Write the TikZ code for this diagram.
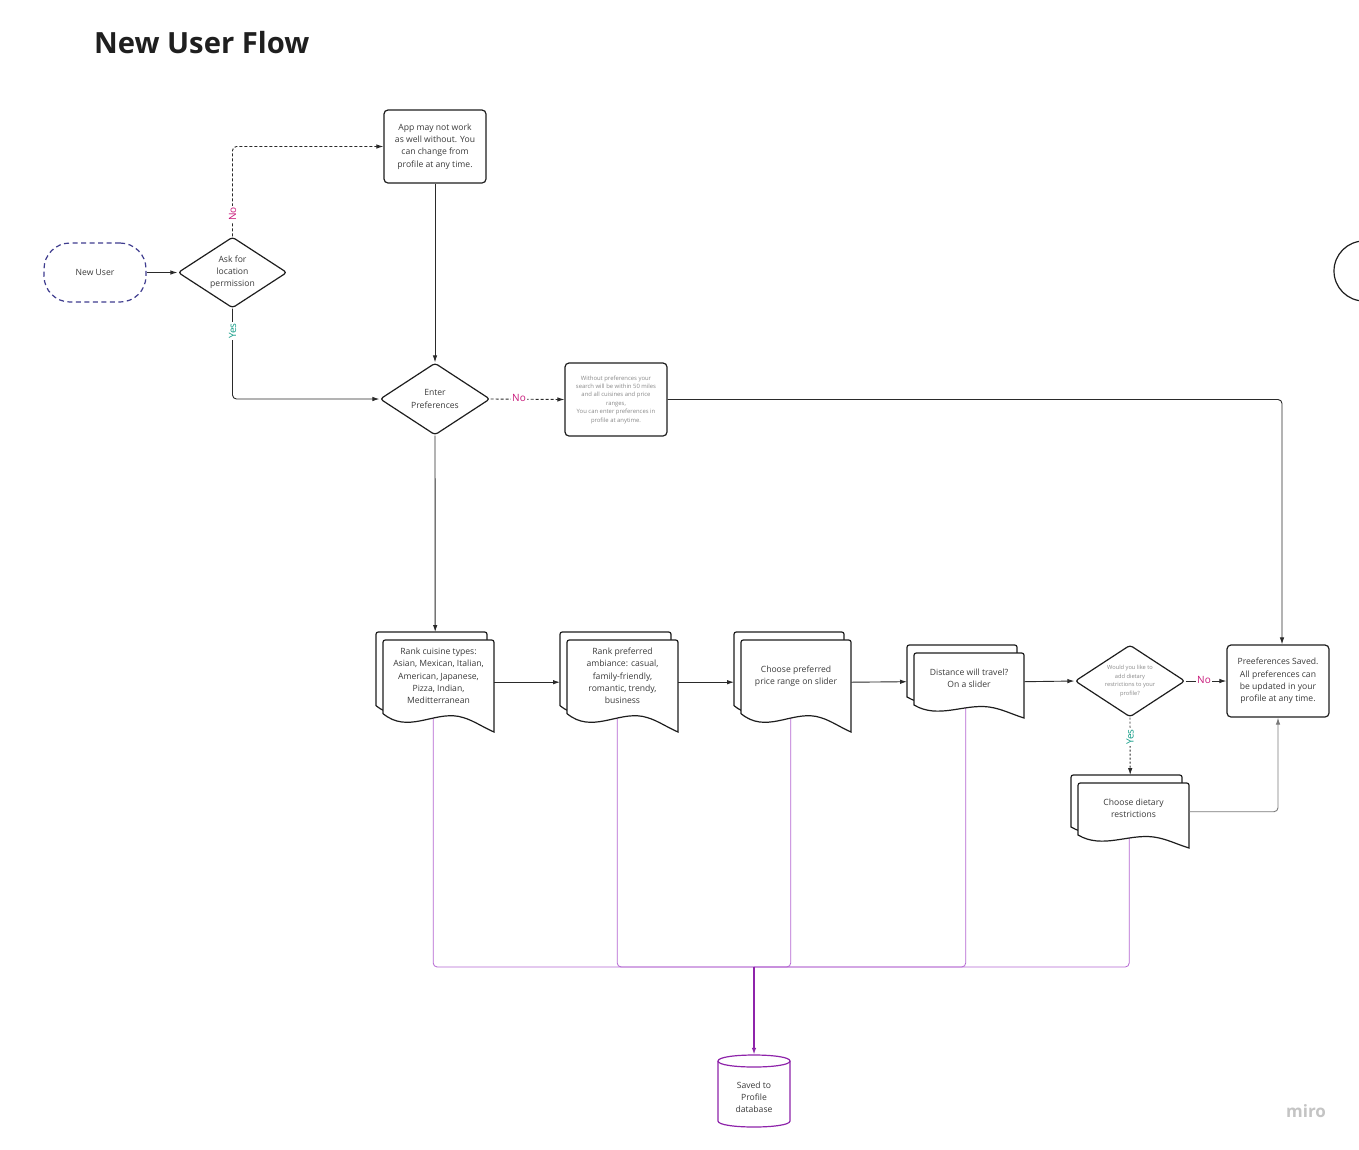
\documentclass[tikz,border=0pt]{standalone}
\usepackage{fontspec}
\setmainfont{Open Sans}
\usetikzlibrary{shapes.geometric,arrows.meta,backgrounds,calc}
\definecolor{txtc}{HTML}{3A3A3A}
\definecolor{smallc}{HTML}{8A8A8A}
\definecolor{linec}{HTML}{1E1E1E}
\definecolor{conc}{HTML}{2A2A2A}
\definecolor{grayc}{HTML}{7A7A7A}
\definecolor{noc}{HTML}{C8187A}
\definecolor{yesc}{HTML}{109C86}
\definecolor{userc}{HTML}{3F3D8F}
\definecolor{branchc}{HTML}{B466D2}
\definecolor{trunkc}{HTML}{8E24AA}
\definecolor{titlec}{HTML}{1F1F1F}
\definecolor{miroc}{HTML}{C4C4C4}
\tikzset{
  base/.style={font=\fontsize{8.6}{12.2}\selectfont, text=txtc, align=center},
  box/.style={base, draw=linec, line width=1.2pt, rounded corners=4pt, minimum width=102pt, minimum height=73pt, inner sep=0pt, fill=white},
  dia/.style={base, diamond, aspect=1.5, draw=linec, line width=1.2pt, rounded corners=3pt, minimum width=110pt, minimum height=72pt, inner sep=0pt, fill=white},
  docl/.style={draw=linec, line width=1.2pt, fill=white},
  docframe/.style={rectangle, inner sep=0pt, draw=none},
  dbline/.style={draw=trunkc, line width=1.2pt, fill=white},
  conn/.style={draw=conc, line width=0.9pt, -{Latex[length=7pt,width=4.5pt]}, rounded corners=4pt},
  dsh/.style={conn, dash pattern=on 3pt off 2pt},
  dotc/.style={conn, dash pattern=on 2pt off 2pt},
  nolab/.style={text=noc, font=\fontsize{10}{12}\selectfont, fill=white, inner sep=1.5pt},
  yeslab/.style={nolab, text=yesc},
  branch/.style={draw=branchc, line width=0.8pt, rounded corners=4pt},
  trunk/.style={draw=trunkc, line width=1.8pt, -{Latex[length=7pt,width=4.5pt]}}
}
\newcommand\docpath[2]{%
  \filldraw[docl] (0,{0.8*#2}) -- (0,5) .. controls (0,0) .. (5,0) -- ({#1-5},0) .. controls (#1,0) .. (#1,5) -- (#1,#2) .. controls ({0.87*#1},{0.93*#2}) and ({0.8*#1},{0.86*#2}) .. ({0.68*#1},{0.83*#2}) .. controls ({0.45*#1},{0.78*#2}) and ({0.22*#1},{1.02*#2}) .. (0,{0.8*#2}) -- cycle;}
\newcommand\mdoc[6]{%
  \begin{scope}[shift={(#2-7,#3-8)}]\docpath{#4}{#5}\end{scope}
  \begin{scope}[shift={(#2,#3)}]\docpath{#4}{#5}\end{scope}
  \node[docframe, minimum width={#4+7}, minimum height={#5+8}, anchor=north west] (#1) at (#2-7,#3-8) {};
  \node[base] (#1t) at ({#2+#4/2},{#3+0.39*#5}) {#6};}
\begin{document}
\begin{tikzpicture}[x=1pt,y=-1pt]
\useasboundingbox (0,0) rectangle (1359,1149);
\begin{scope}[on background layer]
  \fill[white] (0,0) rectangle (1359,1149);
\end{scope}

% title and watermark
\node[anchor=west, font=\bfseries\fontsize{29.2}{34}\selectfont, text=titlec, inner sep=0pt] (title) at (94,43) {New User Flow};
\node[font=\bfseries\fontsize{17}{20}\selectfont, text=miroc] (miro) at (1306,1111) {miro};
\node[circle, draw=linec, line width=1.2pt, minimum size=60pt] (edge) at (1364,271) {};

% top part
\node[base, draw=userc, line width=1.2pt, dash pattern=on 5pt off 3.5pt, rounded corners=26pt, minimum width=102pt, minimum height=59pt, inner sep=0pt] (nu) at (95,272.5) {New User};
\node[dia, minimum width=109pt, minimum height=71pt] (ask) at (232.5,272.5) {Ask for\\location\\permission};
\node[box] (app) at (435,146.5) {App may not work\\as well without. You\\can change from\\profile at any time.};
\node[dia] (ep) at (435,399) {Enter\\Preferences};
\node[box, font=\fontsize{5.9}{8.4}\selectfont, text=smallc] (wp) at (616,399.5) {Without preferences your\\search will be within 50 miles\\and all cuisines and price\\ranges,\\You can enter preferences in\\profile at anytime.};

% document row
\mdoc{d1}{383}{640}{111}{92}{Rank cuisine types:\\Asian, Mexican, Italian,\\American, Japanese,\\Pizza, Indian,\\Meditterranean}
\mdoc{d2}{567}{640}{111}{92}{Rank preferred\\ambiance: casual,\\family-friendly,\\romantic, trendy,\\business}
\mdoc{d3}{741}{640}{110}{92}{Choose preferred\\price range on slider}
\mdoc{d4}{914}{653}{110}{65}{Distance will travel?\\On a slider}
\mdoc{d5}{1078}{783}{111}{65}{Choose dietary\\restrictions}

\node[dia, font=\fontsize{5.7}{8.5}\selectfont, text=smallc] (dd) at (1130,681) {Would you like to\\add dietary\\restrictions to your\\profile?};
\node[box, minimum height=72pt] (ps) at (1278,681) {Preeferences Saved.\\All preferences can\\be updated in your\\profile at any time.};

% database cylinder
\node[docframe, minimum width=72pt, minimum height=72pt] (db) at (754,1091) {};
\filldraw[dbline] (718,1061) -- (718,1121) .. controls (718,1129) and (790,1129) .. (790,1121) -- (790,1061) .. controls (790,1053) and (718,1053) .. (718,1061) -- cycle;
\draw[dbline, fill=none] (718,1061) .. controls (718,1069) and (790,1069) .. (790,1061);
\node[base] (dbt) at (754,1097) {Saved to\\Profile\\database};

% connectors
\draw[conn] (nu.east) -- (ask.west);
\draw[dsh] (ask.north) |- (app.west);
\draw[conn] (ask.south) |- (ep.west);
\draw[conn] (app.south) -- (ep.north);
\draw[dsh] (ep.east) -- (wp.west);
\draw[conn] (wp.east) -| ([xshift=4pt]ps.north);
\draw[conn] (ep.south) -- (d1.north);
\draw[conn] (d1.east) -- (d2.west);
\draw[conn] (d2.east) -- (d3.west);
\draw[conn] (d3.east) -- (d4.west);
\draw[conn] (d4.east) -- (dd.west);
\draw[conn] (dd.east) -- (ps.west);
\draw[dotc] (dd.south) -- (d5.north);
\draw[conn, draw=grayc] (d5.east) -| (ps.south);

% labels
\node[nolab, rotate=90] (lno1) at (232.5,214) {No};
\node[yeslab, rotate=90] (lyes1) at (232.5,331) {Yes};
\node[nolab] (lno2) at (519,398) {No};
\node[nolab] (lno3) at (1204,680) {No};
\node[yeslab, rotate=90] (lyes2) at (1130,737) {Yes};

% purple flows to database
\coordinate (hub) at (754,967);
\begin{scope}[on background layer]
  \draw[branch] ([xshift=-2pt]d1.center) |- (hub);
  \draw[branch] ([xshift=-2pt]d2.center) |- (hub);
  \draw[branch] ([xshift=-2pt]d3.center) |- (hub);
  \draw[branch] (d4.center) |- (hub);
  \draw[branch] ([xshift=-1pt]d5.center) |- (hub);
\end{scope}
\draw[trunk] (hub) -- (db.north);
\end{tikzpicture}
\end{document}
